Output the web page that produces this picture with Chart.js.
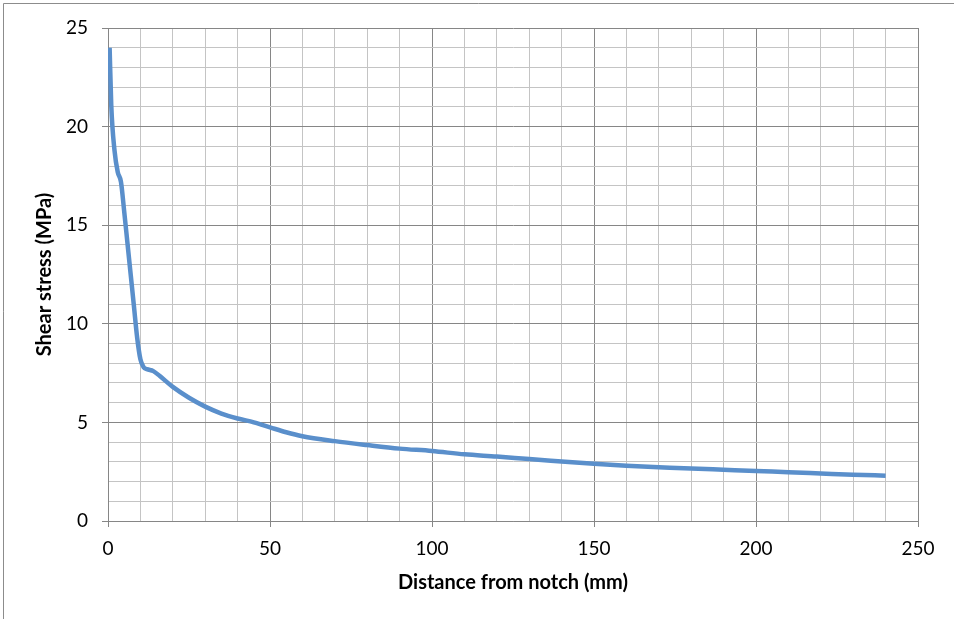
<!DOCTYPE html>
<html>
<head>
<meta charset="utf-8">
<script src="https://cdn.jsdelivr.net/npm/chart.js@4/dist/chart.umd.min.js"></script>
<style>
  html, body { margin: 0; padding: 0; background: #ffffff; }
  #wrap { width: 954px; height: 619px; position: relative; }
</style>
</head>
<body>
<div id="wrap"><canvas id="c" width="954" height="619"></canvas></div>
<script>
const distanceMm = [0.5, 1, 2, 3, 4, 5, 6, 7, 8, 9, 10, 11, 12, 14, 16, 20, 25, 30, 35, 40, 45, 50, 55, 60, 70, 80, 90, 100, 110, 120, 130, 140, 150, 160, 170, 180, 190, 200, 210, 220, 230, 240];
const shearStressMPa = [24.0, 21.1, 18.8, 17.7, 17.2, 15.7, 14.1, 12.5, 10.9, 9.3, 8.2, 7.8, 7.7, 7.6, 7.35, 6.8, 6.25, 5.8, 5.45, 5.2, 5.0, 4.75, 4.5, 4.3, 4.05, 3.85, 3.67, 3.55, 3.38, 3.27, 3.14, 3.02, 2.9, 2.8, 2.73, 2.66, 2.6, 2.54, 2.47, 2.41, 2.35, 2.3];
const xTitle = 'Distance from notch (mm)';
const yTitle = 'Shear stress (MPa)';
const xMajorStep = 50, xMinorStep = 10;
const yMajorStep = 5, yMinorStep = 1;

const points = distanceMm.map((x, i) => ({ x: x, y: shearStressMPa[i] }));

const MAJOR = '#868686';
const MINOR = '#c4c4c4';
const FONT = 'Lato, "Open Sans", sans-serif';

const framePlugin = {
  id: 'frame',
  beforeDraw(chart) {
    const ctx = chart.ctx;
    ctx.save();
    ctx.fillStyle = '#ffffff';
    ctx.fillRect(0, 0, chart.width, chart.height);
    ctx.strokeStyle = '#8c8c8c';
    ctx.lineWidth = 1;
    ctx.beginPath();
    ctx.moveTo(3.5, chart.height);
    ctx.lineTo(3.5, 3.5);
    ctx.lineTo(chart.width, 3.5);
    ctx.stroke();
    ctx.restore();
  }
};

new Chart(document.getElementById('c'), {
  type: 'scatter',
  data: {
    datasets: [{
      data: points,
      showLine: true,
      borderColor: '#5a8fcb',
      backgroundColor: '#5a8fcb',
      borderWidth: 4.5,
      pointRadius: 0,
      pointHoverRadius: 0,
      cubicInterpolationMode: 'monotone',
      fill: false
    }]
  },
  options: {
    responsive: false,
    animation: false,
    devicePixelRatio: 1,
    layout: { padding: { top: 28, right: 36, left: 0, bottom: 0 } },
    plugins: { legend: { display: false }, tooltip: { enabled: false } },
    scales: {
      x: {
        type: 'linear',
        min: 0, max: 250,
        afterFit(scale) { scale.height = 98; },
        border: { color: MAJOR, width: 1 },
        grid: {
          color: (c) => (c.tick && c.tick.value % xMajorStep === 0) ? MAJOR : MINOR,
          tickColor: (c) => (c.tick && c.tick.value % xMajorStep === 0) ? MAJOR : 'rgba(0,0,0,0)',
          tickLength: 6,
          lineWidth: 1
        },
        ticks: {
          stepSize: xMinorStep,
          autoSkip: false,
          maxRotation: 0,
          padding: 10,
          color: '#000000',
          font: { family: FONT, size: 19 },
          callback: (v) => (v % xMajorStep === 0) ? String(v) : ''
        },
        title: {
          display: true,
          text: xTitle,
          color: '#000000',
          font: { family: FONT, size: 20, weight: 'bold' },
          padding: { top: 0, bottom: 24 }
        }
      },
      y: {
        type: 'linear',
        min: 0, max: 25,
        afterFit(scale) { scale.width = 108; },
        border: { color: MAJOR, width: 1 },
        grid: {
          color: (c) => (c.tick && c.tick.value % yMajorStep === 0) ? MAJOR : MINOR,
          tickColor: (c) => (c.tick && c.tick.value % yMajorStep === 0) ? MAJOR : 'rgba(0,0,0,0)',
          tickLength: 6,
          lineWidth: 1
        },
        ticks: {
          stepSize: yMinorStep,
          autoSkip: false,
          padding: 14,
          color: '#000000',
          font: { family: FONT, size: 19 },
          callback: (v) => (v % yMajorStep === 0) ? String(v) : ''
        },
        title: {
          display: true,
          text: yTitle,
          color: '#000000',
          font: { family: FONT, size: 20, weight: 'bold' },
          padding: { top: 33, bottom: 0 }
        }
      }
    }
  },
  plugins: [framePlugin]
});
</script>
</body>
</html>
